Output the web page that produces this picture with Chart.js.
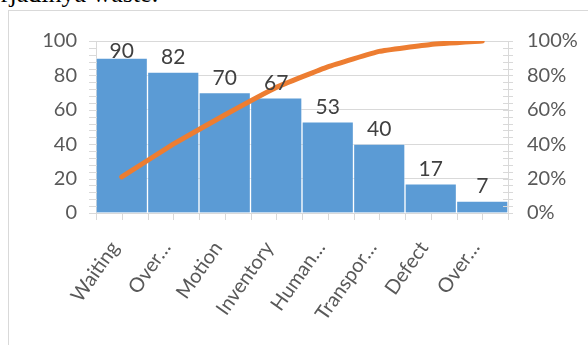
<!DOCTYPE html>
<html>
<head>
<meta charset="utf-8">
<script src="https://cdn.jsdelivr.net/npm/chart.js@4/dist/chart.umd.min.js"></script>
<style>
  html, body { margin: 0; padding: 0; background: #fff; }
  body { width: 588px; height: 345px; position: relative; overflow: hidden; }
  #doc { position: absolute; left: -18px; top: -19px; font: 26px/26px "Liberation Serif", serif; color: #000; white-space: nowrap; }
  #frame { position: absolute; left: 8px; top: 10px; width: 600px; height: 400px; border-left: 1px solid #d9d9d9; border-top: 1px solid #d9d9d9; }
  #wrap { position: absolute; left: 0; top: 0; width: 588px; height: 345px; }
</style>
</head>
<body>
<div id="doc">terjadinya waste.</div>
<div id="frame"></div>
<div id="wrap"><canvas id="pareto"></canvas></div>
<script>
const categories = ["Waiting", "Over…", "Motion", "Inventory", "Human…", "Transpor…", "Defect", "Over…"];
const counts = [90, 82, 70, 67, 53, 40, 17, 7];
const cumulativePct = [21, 40, 57, 73, 85, 94, 98, 100];
const leftTicks = [0, 20, 40, 60, 80, 100];
const rightTicks = [0, 20, 40, 60, 80, 100];

const txt = "#595959";
const axisGrey = "#d9d9d9";
const font = "Lato, 'Open Sans', sans-serif";

// value labels on bars + the small tick marks excel draws
const extras = {
    id: "extras",
    afterDatasetsDraw(chart) {
        const c = chart.ctx;
        const area = chart.chartArea;
        const bars = chart.getDatasetMeta(1).data;
        c.save();
        c.fillStyle = "#404040";
        c.font = "21px " + font;
        c.textAlign = "center";
        c.textBaseline = "bottom";
        bars.forEach((b, i) => {
            let y = b.y - 4;
            if (y < area.top + 21) y = area.top + 21;
            c.fillText(counts[i], b.x, y);
        });

        c.strokeStyle = axisGrey;
        c.lineWidth = 1;
        const yl = chart.scales.y;
        const yr = chart.scales.y2;
        for (let v = 0; v <= 100; v += 4) {
            let p = Math.round(yl.getPixelForValue(v)) + 0.5;
            c.beginPath();
            c.moveTo(area.left - 7, p);
            c.lineTo(area.left + 1, p);
            c.stroke();
            p = Math.round(yr.getPixelForValue(v)) + 0.5;
            c.beginPath();
            c.moveTo(area.right - 5, p);
            c.lineTo(area.right + 5, p);
            c.stroke();
        }
        const xs = chart.scales.x;
        const half = (xs.getPixelForValue(1) - xs.getPixelForValue(0)) / 2;
        for (let i = 0; i < categories.length; i++) {
            [-half, 0, half].forEach(d => {
                const p = Math.round(xs.getPixelForValue(i) + d) + 0.5;
                c.beginPath();
                c.moveTo(p, area.bottom);
                c.lineTo(p, area.bottom + 7);
                c.stroke();
            });
        }
        c.restore();
    }
};

new Chart(document.getElementById("pareto"), {
    data: {
        labels: categories,
        datasets: [
            {
                type: "line",
                data: cumulativePct,
                yAxisID: "y2",
                borderColor: "#ed7d31",
                borderWidth: 5,
                borderCapStyle: "round",
                borderJoinStyle: "round",
                pointRadius: 0,
                tension: 0.1,
                order: 0
            },
            {
                type: "bar",
                data: counts,
                yAxisID: "y",
                backgroundColor: "#5b9bd5",
                borderColor: "rgba(255,255,255,0.3)",
                borderWidth: 1,
                categoryPercentage: 1,
                barPercentage: 1,
                order: 1
            }
        ]
    },
    options: {
        responsive: true,
        maintainAspectRatio: false,
        animation: false,
        layout: { padding: { top: 41, left: 0, right: 0, bottom: 0 } },
        plugins: { legend: { display: false }, tooltip: { enabled: false } },
        scales: {
            x: {
                offset: true,
                grid: { display: false },
                border: { color: axisGrey },
                ticks: {
                    color: txt,
                    font: { family: font, size: 20 },
                    minRotation: 55,
                    maxRotation: 55,
                    padding: 16,
                    labelOffset: -7,
                    autoSkip: false
                },
                afterFit: s => { s.height = 132; }
            },
            y: {
                position: "left",
                min: 0,
                max: 100,
                afterBuildTicks: s => { s.ticks = leftTicks.map(v => ({ value: v })); },
                grid: { color: axisGrey, drawTicks: false },
                border: { color: axisGrey },
                ticks: { color: txt, font: { family: font, size: 20 }, padding: 19 },
                afterFit: s => { s.width = 96; }
            },
            y2: {
                position: "right",
                min: 0,
                max: 100,
                afterBuildTicks: s => { s.ticks = rightTicks.map(v => ({ value: v })); },
                grid: { drawOnChartArea: false, drawTicks: false },
                border: { color: axisGrey },
                ticks: {
                    color: txt,
                    font: { family: font, size: 20 },
                    padding: 19,
                    callback: v => v + "%"
                },
                afterFit: s => { s.width = 80; }
            }
        }
    },
    plugins: [extras]
});
</script>
</body>
</html>
